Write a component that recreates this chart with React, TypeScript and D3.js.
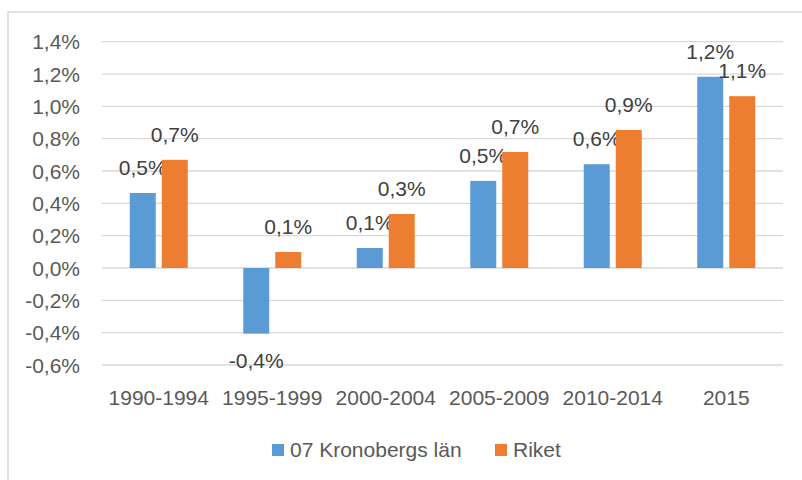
import React from "react";
import * as d3 from "d3";

const categories = ["1990-1994", "1995-1999", "2000-2004", "2005-2009", "2010-2014", "2015"];
const seriesNames = ["07 Kronobergs län", "Riket"];
const kronoberg = [0.464, -0.406, 0.124, 0.539, 0.642, 1.183];
const riket = [0.669, 0.099, 0.334, 0.718, 0.854, 1.063];
const yTicks = [-0.6, -0.4, -0.2, 0, 0.2, 0.4, 0.6, 0.8, 1.0, 1.2, 1.4];
const colors = ["#5B9BD5", "#ED7D31"];

const W = 802;
const H = 480;
const FONT = "'Liberation Sans', Arial, sans-serif";
const TEXT = "#595959";

const fmt = (v: number) => d3.format(".1f")(v).replace(".", ",").replace("−", "-") + "%";

export default function App() {
  const x0 = d3.scaleBand<string>().domain(categories).range([102, 783]).padding(0);
  const groupW = x0.bandwidth() * 0.511;
  const x1 = d3.scaleBand<string>().domain(seriesNames).range([0, groupW]).paddingInner(0.1875).paddingOuter(0);
  const y = d3.scaleLinear().domain([-0.6, 1.4]).range([365, 41.7]);
  const series = [kronoberg, riket];

  return (
    <svg width={W} height={H} style={{ position: "absolute", left: 0, top: 0, background: "#fff" }}>
      <rect x={8} y={12} width={W} height={H} fill="#fff" stroke="#D9D9D9" strokeWidth={1.5} />
      {yTicks.map((t) => (
        <g key={t}>
          <line x1={102} x2={783} y1={y(t)} y2={y(t)} stroke="#D9D9D9" strokeWidth={1.3} />
          <text x={80} y={y(t) + 7.5} textAnchor="end" fontFamily={FONT} fontSize={21} fill={TEXT}>
            {fmt(t)}
          </text>
        </g>
      ))}
      {categories.map((c, i) => {
        const gx = (x0(c) as number) + (x0.bandwidth() - groupW) / 2;
        return (
          <g key={c}>
            {series.map((s, j) => {
              const v = s[i];
              const bx = gx + (x1(seriesNames[j]) as number);
              const bw = x1.bandwidth();
              const top = Math.min(y(v), y(0));
              const h = Math.abs(y(v) - y(0));
              const ly = v >= 0 ? y(v) - 18 : y(v) + 34;
              return (
                <g key={j}>
                  <rect x={bx} y={top} width={bw} height={h} fill={colors[j]} />
                  <text x={bx + bw / 2} y={ly} textAnchor="middle" fontFamily={FONT} fontSize={21} fill="#404040">
                    {fmt(v)}
                  </text>
                </g>
              );
            })}
            <text x={(x0(c) as number) + x0.bandwidth() / 2} y={405} textAnchor="middle" fontFamily={FONT} fontSize={21} fill={TEXT}>
              {c}
            </text>
          </g>
        );
      })}
      {seriesNames.map((n, j) => {
        const lx = [272, 495][j];
        return (
          <g key={n}>
            <rect x={lx} y={444} width={12} height={12} fill={colors[j]} />
            <text x={lx + 18} y={457} fontFamily={FONT} fontSize={21} fill={TEXT}>
              {n}
            </text>
          </g>
        );
      })}
    </svg>
  );
}
